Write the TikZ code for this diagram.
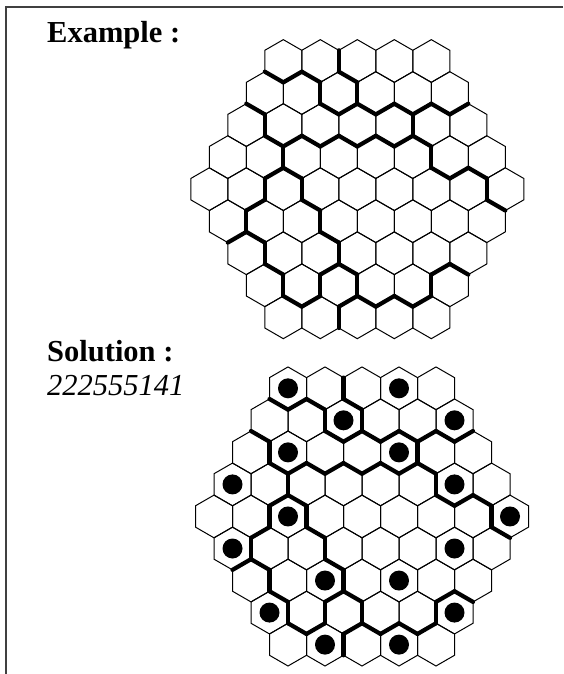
\documentclass[tikz,border=0pt]{standalone}
\usepackage{fontspec}
\setmainfont{Liberation Serif}
\newcommand\hxc[4]{%
  \pgfmathsetmacro\hx{#3+(#2-(8-abs(#1-4))/2)*37}%
  \pgfmathsetmacro\hy{#4+#1*32.04}}
\newcommand\hexgrid[2]{%
  \foreach \r in {0,...,8}{%
    \pgfmathtruncatemacro\hn{8-abs(\r-4)}%
    \foreach \c in {0,...,\hn}{%
      \hxc{\r}{\c}{#1}{#2}%
      \draw[hexline] (\hx,\hy) +(90:21.36pt) -- +(30:21.36pt) -- +(-30:21.36pt)
        -- +(-90:21.36pt) -- +(-150:21.36pt) -- +(150:21.36pt) -- cycle;
    }}}
\newcommand\hexwalls[3]{%
  \foreach \r/\c/\a in {#3}{%
    \hxc{\r}{\c}{#1}{#2}%
    \draw[wall] (\hx,\hy) +(\a:21.36pt) -- +(\a-60:21.36pt);
  }}
\newcommand\hexdots[3]{%
  \foreach \r/\c in {#3}{%
    \hxc{\r}{\c}{#1}{#2}%
    \fill[dotfill] (\hx,\hy) circle (10pt);
  }}
\def\mywalls{0/0/-90, 0/0/-30, 0/1/-90, 0/1/30, 0/2/-90, 1/1/30, 1/2/30,
  1/2/-90, 1/2/-30, 1/3/-90, 1/3/-30, 1/4/-90, 1/4/-30, 1/5/-90, 1/5/-30,
  2/4/30, 2/3/-90, 2/3/-30, 2/4/-90, 2/4/-30, 2/5/-90, 3/5/30, 3/6/-90,
  3/6/-30, 3/7/-90, 4/7/30, 1/0/-90, 2/0/30, 2/1/-90, 2/1/-30, 3/1/30,
  4/1/30, 4/2/30, 4/1/-30, 5/0/30, 5/0/-30, 5/1/-90, 6/0/30, 6/1/-90,
  7/0/30, 7/1/-90, 7/1/-30, 8/1/30, 4/3/-90, 5/2/30, 5/3/-90, 6/2/30,
  6/3/-90, 7/1/30, 4/8/-90, 7/2/30, 7/3/-90, 7/3/-30, 7/4/-90, 7/4/30,
  6/5/-30, 6/6/-90, 2/2/-90, 2/2/-30, 3/1/-30, 3/2/-90, 6/2/-30, 7/2/-30,
  7/4/-30}
\begin{document}
\begin{tikzpicture}[x=1pt,y=-1pt,
  hexline/.style={line width=1pt},
  wall/.style={line width=4.2pt, line cap=round},
  dotfill/.style={fill=black},
  frame/.style={line width=1.3pt, black!75},
  title/.style={font=\fontsize{30.5}{36}\selectfont\bfseries, anchor=base west, inner sep=0pt},
  code/.style={font=\fontsize{30.5}{36}\selectfont\itshape, anchor=base west, inner sep=0pt}]
\useasboundingbox (0,0) rectangle (563,674);
\fill[white] (0,0) rectangle (563,674);
\coordinate (ftl) at (6,7);
\coordinate (ftr) at (563,7);
\coordinate (fbl) at (6,674);
\draw[frame] (ftr) -- (ftl) -- (fbl);
\node[title] (ex) at (47,42.7) {Example :};
\node[title] (sol) at (47,361.7) {Solution :};
\node[code] (num) at (47,395) {222555141};
% example grid
\hexgrid{357.3}{61}
\edef\tmp{\noexpand\hexwalls{357.3}{61}{\mywalls}}\tmp
% solution grid
\hexgrid{362}{388.3}
\edef\tmp{\noexpand\hexwalls{362}{388.3}{\mywalls}}\tmp
\hexdots{362}{388.3}{0/0,0/3,1/2,1/5,2/1,2/4,3/0,3/6,4/2,4/8,5/0,5/6,6/2,6/4,7/0,7/5,8/1,8/3}
\end{tikzpicture}
\end{document}
